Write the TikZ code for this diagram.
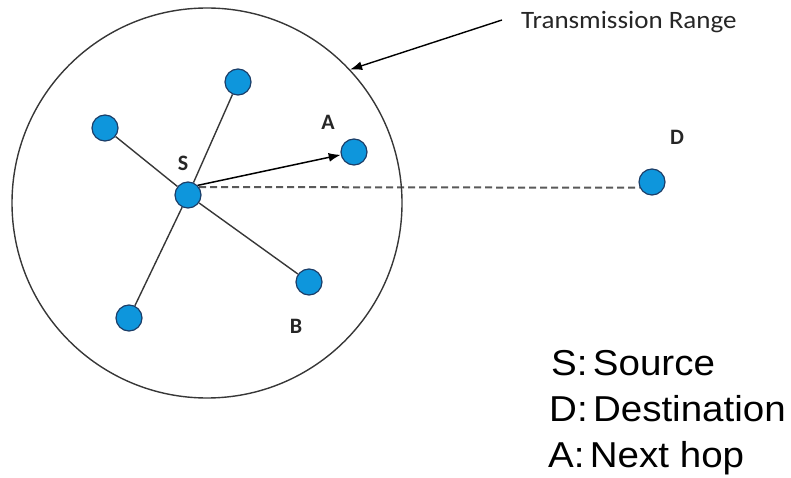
\documentclass[tikz,border=0pt]{standalone}
\usepackage{fontspec}
\setmainfont{Carlito}
\newfontfamily\legendfont{Liberation Sans}
\usetikzlibrary{arrows.meta,backgrounds}
\definecolor{nodeblue}{RGB}{14,150,220}
\definecolor{nodeedge}{RGB}{28,62,104}
\definecolor{wire}{RGB}{55,55,55}
\begin{document}
\begin{tikzpicture}[x=1pt,y=-1pt,
  host/.style={circle,minimum size=26pt,inner sep=0pt,fill=nodeblue,draw=nodeedge,line width=1.2pt},
  tag/.style={font=\fontsize{22}{22}\selectfont\bfseries,text=black!85},
  link/.style={draw=wire,line width=1.4pt},
  hop/.style={draw=black,line width=1.5pt,-{Latex[length=12pt,width=9pt]}},
  far/.style={draw=black!65,line width=2pt,dash pattern=on 7pt off 4pt},
  legend/.style={font=\legendfont\fontsize{36}{36}\selectfont,anchor=base west,inner sep=0pt}]
  \useasboundingbox (0,0) rectangle (791,478);

  % transmission range
  \node[circle,draw=wire,line width=1.4pt,minimum size=390pt,inner sep=0pt] (range) at (207,203) {};

  % hosts
  \node[host] (S) at (188,195) {};
  \node[host] (N1) at (238,82) {};
  \node[host] (N2) at (105,128) {};
  \node[host] (A) at (354,152) {};
  \node[host] (B) at (309,282) {};
  \node[host] (N3) at (129,318) {};
  \node[host] (D) at (652,182) {};

  % host labels
  \node[tag] (lS) at (183,163) {S};
  \node[tag] (lA) at (328,122) {A};
  \node[tag] (lB) at (296,326) {B};
  \node[tag] (lD) at (677,137) {D};

  % neighbour links
  \begin{scope}[on background layer]
    \draw[link] (S) -- (N1);
    \draw[link] (S) -- (N2);
    \draw[link] (S) -- (N3);
    \draw[link] (S) -- (B);
    \draw[far] (S.36) -- (D.205);
  \end{scope}
  \draw[hop] (S.45) -- (A);

  % range caption
  \node[font=\fontsize{25}{25}\selectfont,anchor=base west,inner sep=0pt,text=black!85] (tr) at (521,29) {\scalebox{1.08}[1]{Transmission Range}};
  \coordinate (trtail) at (502,20);
  \draw[hop,line width=1.4pt] (trtail) -- (range.43);

  % legend
  \node[legend] (k1) at (551,375) {\scalebox{1.07}[1]{S:\hspace{5pt}Source}};
  \node[legend] (k2) at (549,421) {\scalebox{1.07}[1]{D:\hspace{5pt}Destination}};
  \node[legend] (k3) at (548,467) {\scalebox{1.07}[1]{A:\hspace{5pt}Next hop}};
\end{tikzpicture}
\end{document}
